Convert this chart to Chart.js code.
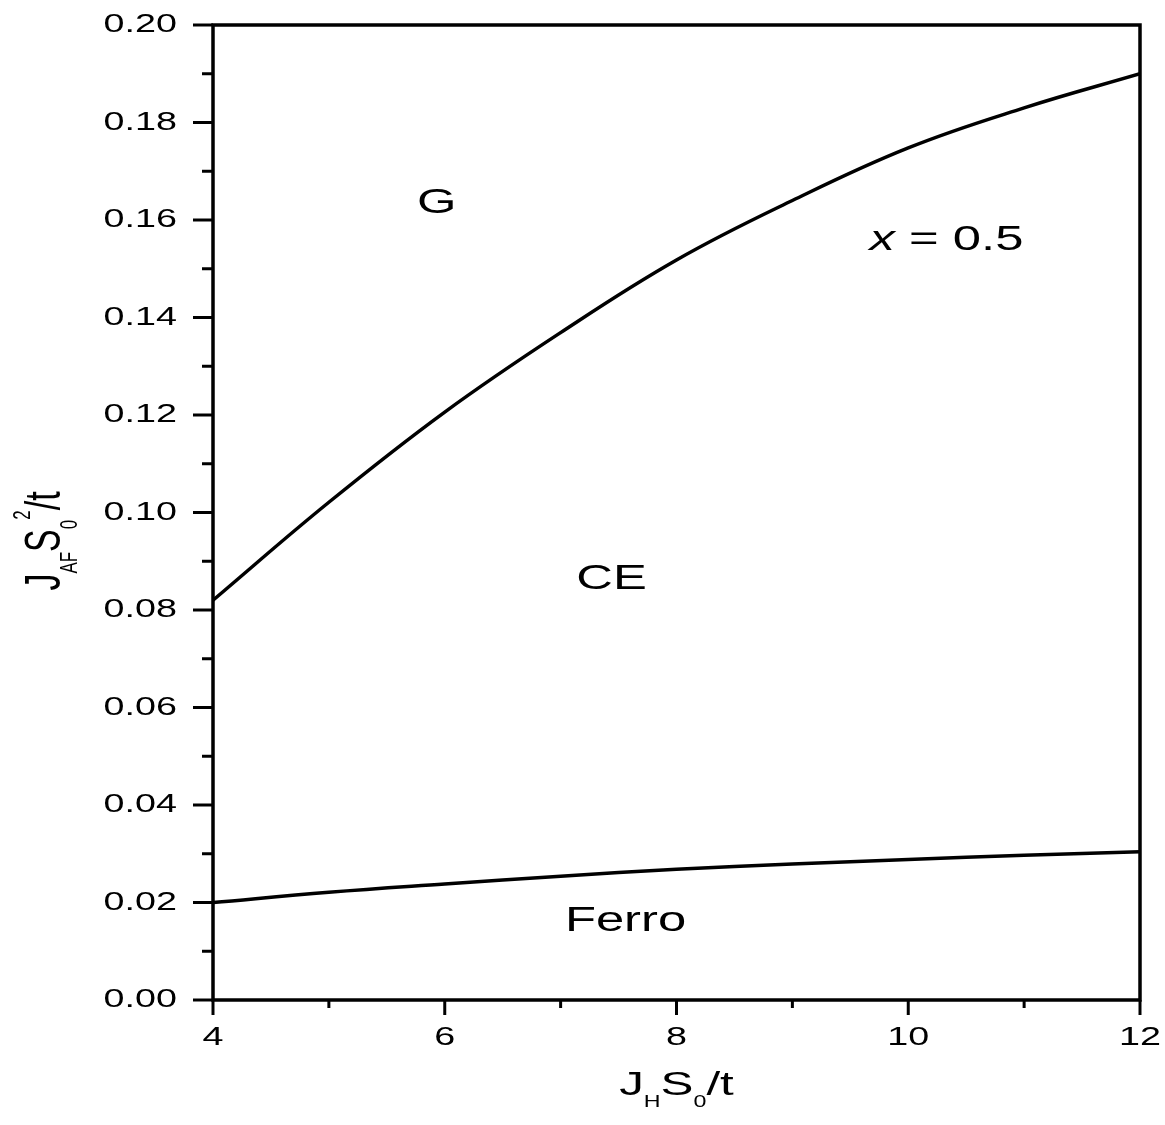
<!DOCTYPE html>
<html>
<head>
<meta charset="utf-8">
<script src="https://cdn.jsdelivr.net/npm/chart.js@4.4.0/dist/chart.umd.min.js"></script>
<style>
  html, body { margin: 0; padding: 0; background: #fff; }
  canvas { display: block; }
</style>
</head>
<body>
<canvas id="diagrama" width="1165" height="1125"></canvas>
<script>
// valores
const jhValues = [4, 5, 6, 7, 8, 9, 10, 11, 12];
const limiteG_CE = [0.0820, 0.1021, 0.1206, 0.1369, 0.1518, 0.1640, 0.1748, 0.1830, 0.1900];
const limiteCE_Ferro = [0.0200, 0.0221, 0.0238, 0.0254, 0.0268, 0.0279, 0.0288, 0.0297, 0.0304];

const xTickLabels = ['4', '6', '8', '10', '12'];
const yTickLabels = ['0.00', '0.02', '0.04', '0.06', '0.08', '0.10', '0.12', '0.14', '0.16', '0.18', '0.20'];

// etiquetas de las fases (posicion en unidades de datos)
const faseNombres = ['G', 'CE', 'Ferro'];
const faseX = [5.93, 7.44, 7.56];
const faseY = [0.1635, 0.0862, 0.0162];

const STRETCH = 1.45; // la figura original esta estirada en horizontal
const FONT = '"Liberation Sans", Arial, sans-serif';

function puntos(ys) {
    return jhValues.map((x, i) => ({ x: x, y: ys[i] }));
}

// texto estirado horizontalmente
function texto(ctx, str, x, y, size, align) {
    ctx.save();
    ctx.translate(x, y);
    ctx.scale(STRETCH, 1);
    ctx.font = size + 'px ' + FONT;
    ctx.textAlign = align;
    ctx.textBaseline = 'middle';
    ctx.fillStyle = '#000';
    ctx.fillText(str, 0, 0);
    ctx.restore();
}

// dibuja una lista de trozos [texto, tamaño, desplazamiento] centrada en 0
function trozos(ctx, partes) {
    let total = 0;
    partes.forEach(p => {
        ctx.font = p[1] + 'px ' + FONT;
        total += ctx.measureText(p[0]).width;
    });
    let pos = -total / 2;
    partes.forEach(p => {
        ctx.font = p[1] + 'px ' + FONT;
        ctx.fillText(p[0], pos, p[2]);
        pos += ctx.measureText(p[0]).width;
    });
}

const marcoPlugin = {
    id: 'marco',
    afterDraw(chart) {
        const ctx = chart.ctx;
        const area = chart.chartArea;
        const xs = chart.scales.x;
        const ys = chart.scales.y;

        ctx.save();
        ctx.strokeStyle = '#000';
        ctx.lineWidth = 3.5;
        ctx.lineCap = 'butt';

        // marco
        ctx.strokeRect(area.left, area.top, area.right - area.left, area.bottom - area.top);

        // marcas del eje y
        ctx.lineWidth = 3;
        ys.ticks.forEach(t => {
            const py = ys.getPixelForValue(t.value);
            const mayor = Math.round(t.value * 100) % 2 === 0;
            const len = mayor ? 20 : 11;
            ctx.beginPath();
            ctx.moveTo(area.left - len, py);
            ctx.lineTo(area.left, py);
            ctx.stroke();
        });

        // marcas del eje x
        xs.ticks.forEach(t => {
            const px = xs.getPixelForValue(t.value);
            const mayor = Math.round(t.value) % 2 === 0;
            const len = mayor ? 15 : 8;
            ctx.beginPath();
            ctx.moveTo(px, area.bottom);
            ctx.lineTo(px, area.bottom + len);
            ctx.stroke();
        });
        ctx.restore();

        // etiquetas de los ejes
        yTickLabels.forEach(lbl => {
            const py = ys.getPixelForValue(parseFloat(lbl));
            texto(ctx, lbl, area.left - 36, py, 26, 'right');
        });
        xTickLabels.forEach(lbl => {
            const px = xs.getPixelForValue(parseFloat(lbl));
            texto(ctx, lbl, px, area.bottom + 38, 26, 'center');
        });

        // nombres de las fases
        faseNombres.forEach((nombre, i) => {
            texto(ctx, nombre, xs.getPixelForValue(faseX[i]), ys.getPixelForValue(faseY[i]), 35, 'center');
        });

        // x = 0.5
        ctx.save();
        const cx = xs.getPixelForValue(10.33);
        const cy = ys.getPixelForValue(0.1559);
        ctx.translate(cx, cy);
        ctx.scale(STRETCH, 1);
        ctx.textBaseline = 'middle';
        ctx.textAlign = 'left';
        ctx.fillStyle = '#000';
        ctx.font = 'italic 35px ' + FONT;
        const w1 = ctx.measureText('x').width;
        ctx.font = '35px ' + FONT;
        const w2 = ctx.measureText(' = 0.5').width;
        const start = -(w1 + w2) / 2;
        ctx.font = 'italic 35px ' + FONT;
        ctx.fillText('x', start, 0);
        ctx.font = '35px ' + FONT;
        ctx.fillText(' = 0.5', start + w1, 0);
        ctx.restore();

        // titulo eje x: J_H S_0 / t
        ctx.save();
        ctx.translate((area.left + area.right) / 2, 1095);
        ctx.scale(STRETCH, 1);
        ctx.textAlign = 'left';
        ctx.textBaseline = 'alphabetic';
        ctx.fillStyle = '#000';
        trozos(ctx, [['J', 34, 0], ['H', 16, 12], ['S', 34, 0], ['0', 16, 12], ['/t', 34, 0]]);
        ctx.restore();

        // titulo eje y: J_AF S_0^2 / t
        ctx.save();
        ctx.translate(60, 541);
        ctx.scale(STRETCH, 1);
        ctx.rotate(-Math.PI / 2);
        ctx.textAlign = 'left';
        ctx.textBaseline = 'alphabetic';
        ctx.fillStyle = '#000';
        trozos(ctx, [['J', 34, 0], ['AF', 17, 12], ['S', 34, 0], ['0', 17, 12], ['2', 17, -21], ['/t', 34, 0]]);
        ctx.restore();
    }
};

const ctx = document.getElementById('diagrama').getContext('2d');
const chart = new Chart(ctx, {
    type: 'scatter',
    data: {
        datasets: [{
            label: 'G / CE',
            data: puntos(limiteG_CE),
            showLine: true,
            borderColor: '#000',
            borderWidth: 3.5,
            pointRadius: 0,
            tension: 0.4
        }, {
            label: 'CE / Ferro',
            data: puntos(limiteCE_Ferro),
            showLine: true,
            borderColor: '#000',
            borderWidth: 3.5,
            pointRadius: 0,
            tension: 0.4
        }]
    },
    options: {
        responsive: false,
        animation: false,
        layout: { padding: { left: 0, top: 25, right: 25, bottom: 0 } },
        plugins: {
            legend: { display: false },
            tooltip: { enabled: false }
        },
        scales: {
            x: {
                type: 'linear',
                min: 4,
                max: 12,
                ticks: { stepSize: 1, display: false },
                grid: { display: false },
                border: { display: false },
                afterFit: scale => { scale.height = 125; }
            },
            y: {
                type: 'linear',
                min: 0,
                max: 0.2,
                ticks: { stepSize: 0.01, display: false },
                grid: { display: false },
                border: { display: false },
                afterFit: scale => { scale.width = 213; }
            }
        }
    },
    plugins: [marcoPlugin]
});
</script>
</body>
</html>
